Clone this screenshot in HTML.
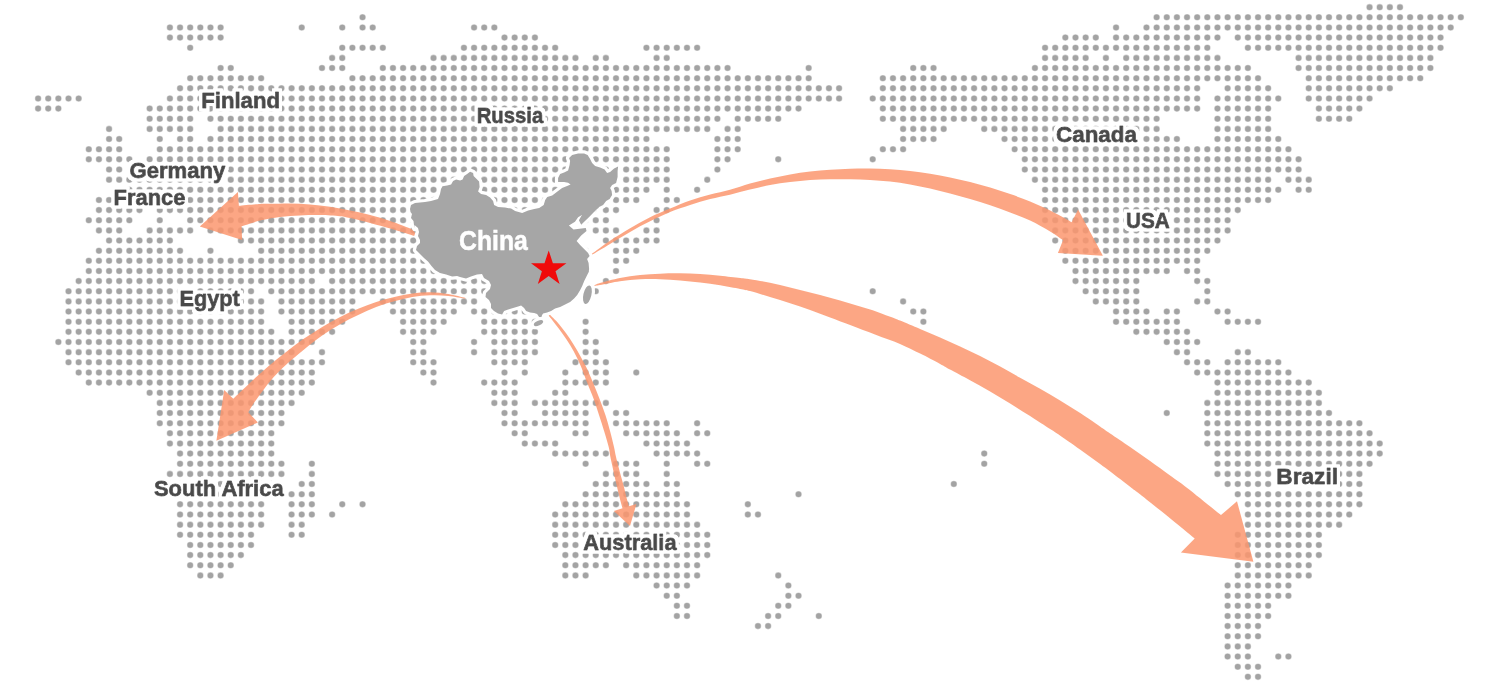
<!DOCTYPE html>
<html><head><meta charset="utf-8"><title>Map</title>
<style>
html,body{margin:0;padding:0;background:#fff;}
body{width:1498px;height:684px;overflow:hidden;}
svg{display:block}
text{font-family:"Liberation Sans",sans-serif;font-weight:bold;}
</style></head><body>
<svg width="1498" height="684" viewBox="0 0 1498 684">
<defs><filter id="nf" x="-5%" y="-50%" width="110%" height="200%"><feOffset dx="0" dy="0"/></filter>
<filter id="halo" filterUnits="userSpaceOnUse" x="0" y="0" width="1498" height="684"><feMorphology in="SourceAlpha" operator="dilate" radius="2.6" result="d"/><feGaussianBlur in="d" stdDeviation="0.5" result="b"/><feFlood flood-color="#fff"/><feComposite in2="b" operator="in" result="h"/><feMerge><feMergeNode in="h"/><feMergeNode in="h"/><feMergeNode in="SourceGraphic"/></feMerge></filter></defs>
<rect width="1498" height="684" fill="#fff"/>
<defs><g id="dots"><path d="M362.55 17.30h0.01M169.91 27.44h50.70M301.71 27.44h0.01M342.27 27.44h0.01M362.55 27.44h10.15M474.08 27.44h20.29M169.91 37.59h50.70M504.49 37.59h30.43M190.18 47.74h0.01M342.27 47.74h40.57M463.94 47.74h91.26M646.44 47.74h50.70M332.13 57.88h10.15M433.52 57.88h141.96M595.75 57.88h10.15M656.58 57.88h10.15M220.60 68.03h10.15M321.99 68.03h20.29M382.83 68.03h344.74M808.66 68.03h0.01M190.18 78.18h70.98M352.41 78.18h456.26M180.05 88.33h659.04M38.10 98.47h40.57M169.91 98.47h669.18M38.10 108.62h20.29M149.63 108.62h648.91M149.63 118.77h40.57M210.46 118.77h506.96M737.69 118.77h40.57M109.07 128.91h0.01M149.63 128.91h40.57M220.60 128.91h486.68M727.55 128.91h10.15M109.07 139.06h10.15M159.77 139.06h0.01M180.05 139.06h10.15M210.46 139.06h435.99M717.41 139.06h20.29M88.79 149.21h30.43M159.77 149.21h506.96M717.41 149.21h20.29M88.79 159.36h40.57M149.63 159.36h517.10M717.41 159.36h10.15M778.25 159.36h0.01M109.07 169.50h10.15M139.49 169.50h527.24M717.41 169.50h0.01M109.07 179.65h557.65M707.27 179.65h0.01M129.35 189.80h517.10M666.72 189.80h0.01M697.13 189.80h0.01M98.93 199.94h537.38M666.72 199.94h10.15M98.93 210.09h40.57M159.77 210.09h456.26M656.58 210.09h10.15M88.79 220.24h40.57M159.77 220.24h0.01M190.18 220.24h415.71M656.58 220.24h0.01M98.93 230.38h20.29M149.63 230.38h40.57M210.46 230.38h405.57M646.44 230.38h10.15M109.07 240.53h60.84M240.88 240.53h334.60M605.88 240.53h50.70M98.93 250.68h81.12M210.46 250.68h0.01M261.16 250.68h324.46M616.02 250.68h20.29M88.79 260.82h496.82M616.02 260.82h10.15M88.79 270.97h496.82M616.02 270.97h0.01M78.66 281.12h233.21M332.13 281.12h243.35M605.88 281.12h0.01M68.52 291.27h182.51M271.30 291.27h304.18M595.75 291.27h0.01M68.52 301.41h192.65M281.44 301.41h70.98M382.83 301.41h91.26M494.36 301.41h70.98M68.52 311.56h192.65M281.44 311.56h70.98M392.96 311.56h60.84M474.08 311.56h50.70M68.52 321.71h192.65M291.57 321.71h50.70M403.10 321.71h40.57M484.22 321.71h50.70M585.61 321.71h0.01M68.52 331.85h202.79M291.57 331.85h40.57M403.10 331.85h30.43M484.22 331.85h50.70M585.61 331.85h0.01M58.38 342.00h253.48M413.24 342.00h10.15M474.08 342.00h0.01M494.36 342.00h40.57M585.61 342.00h10.15M68.52 352.15h223.07M321.99 352.15h0.01M413.24 352.15h10.15M474.08 352.15h0.01M494.36 352.15h40.57M585.61 352.15h10.15M68.52 362.29h253.48M413.24 362.29h20.29M494.36 362.29h30.43M575.47 362.29h30.43M78.66 372.44h233.21M423.38 372.44h10.15M504.49 372.44h0.01M524.77 372.44h0.01M565.33 372.44h0.01M585.61 372.44h20.29M636.30 372.44h0.01M88.79 382.59h223.07M433.52 382.59h0.01M484.22 382.59h30.43M565.33 382.59h40.57M149.63 392.74h152.09M494.36 392.74h20.29M555.19 392.74h10.15M159.77 402.88h131.82M494.36 402.88h20.29M534.91 402.88h70.98M159.77 413.03h121.68M504.49 413.03h10.15M545.05 413.03h40.57M616.02 413.03h10.15M159.77 423.18h121.68M504.49 423.18h81.12M616.02 423.18h50.70M697.13 423.18h0.01M169.91 433.32h101.40M514.63 433.32h10.15M575.47 433.32h10.15M626.16 433.32h50.70M697.13 433.32h10.15M169.91 443.47h101.40M524.77 443.47h30.43M646.44 443.47h40.57M180.05 453.62h91.26M555.19 453.62h50.70M656.58 453.62h40.57M180.05 463.76h101.40M311.85 463.76h0.01M585.61 463.76h0.01M616.02 463.76h20.29M666.72 463.76h0.01M697.13 463.76h10.15M169.91 473.91h111.54M311.85 473.91h0.01M605.88 473.91h30.43M666.72 473.91h0.01M169.91 484.06h101.40M301.71 484.06h10.15M595.75 484.06h50.70M666.72 484.06h10.15M180.05 494.21h81.12M291.57 494.21h20.29M585.61 494.21h91.26M798.52 494.21h0.01M180.05 504.35h81.12M291.57 504.35h20.29M342.27 504.35h0.01M362.55 504.35h0.01M565.33 504.35h121.68M747.83 504.35h0.01M180.05 514.50h81.12M291.57 514.50h20.29M332.13 514.50h0.01M555.19 514.50h131.82M747.83 514.50h10.15M180.05 524.65h81.12M291.57 524.65h10.15M555.19 524.65h141.96M180.05 534.79h70.98M291.57 534.79h10.15M555.19 534.79h152.09M190.18 544.94h60.84M555.19 544.94h152.09M190.18 555.09h50.70M565.33 555.09h141.96M190.18 565.24h40.57M565.33 565.24h40.57M626.16 565.24h70.98M200.32 575.38h20.29M565.33 575.38h20.29M636.30 575.38h60.84M778.25 575.38h0.01M656.58 585.53h30.43M788.39 585.53h0.01M666.72 595.68h10.15M788.39 595.68h10.15M676.86 605.82h10.15M778.25 605.82h10.15M676.86 615.97h10.15M768.11 615.97h10.15M818.80 615.97h0.01M757.97 626.12h10.15" stroke-dasharray="0 10.139"/><path d="M1369.56 7.15h30.43M1156.62 17.30h304.21M1116.06 27.44h0.01M1146.48 27.44h304.21M1065.36 37.59h30.43M1116.06 37.59h101.41M1237.74 37.59h202.81M1045.08 47.74h162.25M1247.88 47.74h192.67M1045.08 57.88h40.57M1105.92 57.88h0.01M1126.20 57.88h91.27M1298.58 57.88h131.83M913.26 68.03h20.29M1034.94 68.03h212.95M1298.58 68.03h131.83M882.84 78.18h375.19M1308.72 78.18h111.55M882.84 88.33h314.35M1227.60 88.33h40.57M1308.72 88.33h81.13M872.70 98.47h324.49M1217.46 98.47h60.85M1308.72 98.47h60.85M882.84 108.62h314.35M1217.46 108.62h50.71M1318.86 108.62h40.57M882.84 118.77h273.79M1217.46 118.77h50.71M1318.86 118.77h30.43M903.12 128.91h40.57M984.24 128.91h172.39M1217.46 128.91h50.71M903.12 139.06h30.43M1004.52 139.06h172.39M1217.46 139.06h60.85M882.84 149.21h20.29M1014.66 149.21h273.79M872.70 159.36h0.01M1024.80 159.36h273.79M1024.80 169.50h273.79M1034.94 179.65h233.23M1288.44 179.65h20.29M1045.08 189.80h233.23M1298.58 189.80h10.15M1045.08 199.94h223.09M1045.08 210.09h192.67M1045.08 220.24h182.53M1055.22 230.38h172.39M1055.22 240.53h162.25M1065.36 250.68h141.97M1065.36 260.82h131.83M1075.50 270.97h91.27M1187.04 270.97h10.15M1075.50 281.12h60.85M1197.18 281.12h10.15M872.70 291.27h0.01M1085.64 291.27h50.71M1207.32 291.27h0.01M903.12 301.41h0.01M1095.78 301.41h40.57M1197.18 301.41h10.15M913.26 311.56h10.15M1116.06 311.56h30.43M1166.76 311.56h10.15M1217.46 311.56h10.15M923.40 321.71h0.01M1116.06 321.71h60.85M1227.60 321.71h30.43M1136.34 331.85h50.71M1166.76 342.00h30.43M1176.90 352.15h10.15M1237.74 352.15h10.15M1187.04 362.29h20.29M1227.60 362.29h50.71M1197.18 372.44h91.27M1217.46 382.59h91.27M1217.46 392.74h101.41M1207.32 402.88h111.55M1166.76 413.03h0.01M1207.32 413.03h121.69M1207.32 423.18h152.11M1207.32 433.32h162.25M1207.32 443.47h172.39M984.24 453.62h0.01M1217.46 453.62h162.25M984.24 463.76h0.01M1217.46 463.76h152.11M1217.46 473.91h141.97M953.82 484.06h0.01M1227.60 484.06h131.83M1237.74 494.21h121.69M1247.88 504.35h111.55M1247.88 514.50h101.41M1247.88 524.65h91.27M1237.74 534.79h81.13M1237.74 544.94h81.13M1237.74 555.09h81.13M1237.74 565.24h70.99M1237.74 575.38h70.99M1227.60 585.53h60.85M1227.60 595.68h60.85M1227.60 605.82h40.57M1227.60 615.97h40.57M1227.60 626.12h30.43M1227.60 636.26h30.43M1227.60 646.41h20.29M1227.60 656.56h20.29M1278.30 656.56h10.15M1237.74 666.71h20.29M1247.88 676.85h10.15" stroke-dasharray="0 10.14"/></g></defs><g fill="none" stroke="#a3a3a3" stroke-linecap="round"><use href="#dots" stroke-width="6.6" stroke-opacity="0.5"/><use href="#dots" stroke-width="5.5"/></g>
<g fill="#fb976e" fill-opacity="0.85">
<path d="M415.2 233.1C414.4 232.3 414.4 230.6 410.2 228.6C406.0 226.6 396.9 223.3 390.2 221.0C383.5 218.7 376.8 216.8 370.1 215.0C363.4 213.2 356.8 211.9 350.1 210.5C343.4 209.1 336.8 207.8 330.1 206.8C323.4 205.8 316.8 205.0 310.1 204.4C303.4 203.8 296.7 203.5 290.0 203.4C283.3 203.3 275.0 203.7 270.0 203.8C265.0 203.9 265.3 203.7 260.1 204.0C254.9 204.3 242.4 205.5 238.9 205.8L237.9 192.0L199.8 226.6L242.1 239.9L241.6 226.3C244.7 225.3 253.7 222.1 260.1 220.5C266.5 218.9 273.4 217.8 280.1 217.0C286.8 216.2 293.4 215.7 300.1 215.4C306.8 215.1 313.6 214.9 320.2 215.0C326.8 215.1 335.0 215.7 340.0 216.2C345.0 216.7 345.1 216.9 350.1 218.0C355.1 219.1 363.4 221.2 370.1 223.0C376.8 224.8 384.4 226.9 390.2 228.6C396.0 230.3 401.2 231.8 405.2 233.1C409.2 234.3 412.7 235.6 414.2 236.1Z"/>
<path d="M465.5 298.0C462.6 297.4 454.2 295.1 448.3 294.1C442.4 293.2 436.3 292.4 430.3 292.3C424.3 292.2 418.3 292.7 412.3 293.5C406.3 294.3 400.3 295.7 394.3 297.1C388.3 298.5 382.2 300.1 376.2 302.0C370.2 303.9 364.2 306.3 358.2 308.8C352.2 311.3 346.2 313.9 340.2 316.9C334.2 319.9 328.2 323.3 322.2 326.9C316.2 330.5 310.1 334.4 304.1 338.6C298.1 342.8 292.1 347.5 286.1 352.1C280.1 356.8 274.1 361.4 268.1 366.5C262.1 371.6 255.9 377.3 250.1 382.7C244.3 388.1 236.1 396.0 233.3 398.7L224.2 390.0L216.4 440.7L257.9 422.5L248.3 412.3C249.2 410.8 251.3 406.9 253.7 403.3C256.1 399.7 259.4 395.2 262.7 390.9C266.0 386.6 269.6 381.7 273.5 377.3C277.4 372.9 281.0 369.4 286.1 364.7C291.2 360.0 298.1 354.3 304.1 349.4C310.1 344.5 316.2 339.7 322.2 335.5C328.2 331.3 334.2 327.6 340.2 324.2C346.2 320.8 352.2 318.0 358.2 315.1C364.2 312.2 370.2 309.3 376.2 307.0C382.2 304.7 388.3 302.9 394.3 301.3C400.3 299.7 406.3 298.1 412.3 297.1C418.3 296.1 424.3 295.5 430.3 295.3C436.3 295.1 442.4 295.3 448.3 295.9C454.2 296.4 462.6 298.2 465.5 298.6Z"/>
<path d="M548.6 315.5C549.7 316.9 552.9 320.8 555.2 323.9C557.6 327.0 560.2 330.4 562.7 334.0C565.2 337.6 567.9 341.4 570.2 345.2C572.5 349.0 574.7 353.1 576.6 357.0C578.5 360.9 580.1 364.3 581.9 368.7C583.7 373.1 585.3 378.1 587.3 383.1C589.3 388.2 591.8 393.7 593.7 399.0C595.7 404.3 597.2 409.5 599.0 415.0C600.8 420.5 602.8 426.8 604.4 432.1C606.0 437.5 607.7 443.1 608.7 447.1C609.7 451.1 609.5 452.2 610.2 456.0C611.0 459.8 612.2 465.3 613.2 469.9C614.2 474.5 615.2 479.0 616.3 483.8C617.4 488.6 618.9 494.6 619.9 498.7C620.9 502.8 622.1 506.7 622.5 508.3L613.8 511.0L630.0 526.0L636.4 504.1L628.9 506.2C628.5 504.9 627.8 502.4 626.8 498.7C625.8 495.0 624.4 488.6 623.1 483.8C621.9 479.0 620.5 474.5 619.3 469.9C618.1 465.3 616.7 459.8 615.8 456.0C614.9 452.2 614.9 451.1 614.0 447.1C613.1 443.1 611.7 437.5 610.3 432.1C608.9 426.8 607.2 420.5 605.4 415.0C603.6 409.5 601.6 404.3 599.6 399.0C597.6 393.7 595.3 388.2 593.2 383.1C591.1 378.0 588.9 372.7 586.8 368.2C584.6 363.7 582.5 359.9 580.3 355.9C578.1 351.9 575.8 348.0 573.4 344.2C571.0 340.4 568.6 336.6 565.9 333.0C563.2 329.4 560.1 325.3 557.4 322.3C554.7 319.3 551.1 316.1 549.9 314.8Z"/>
<path d="M591.5 254.1C594.6 251.9 603.6 245.1 610.0 240.8C616.4 236.5 623.4 232.1 630.1 228.2C636.8 224.3 643.4 220.5 650.1 217.2C656.8 213.9 663.4 211.3 670.1 208.5C676.8 205.7 683.4 202.8 690.1 200.5C696.8 198.2 703.6 196.3 710.2 194.5C716.9 192.7 723.4 191.5 730.0 189.7C736.6 187.9 743.3 185.4 750.0 183.5C756.7 181.6 763.4 180.0 770.1 178.5C776.8 177.0 783.4 175.7 790.1 174.5C796.8 173.3 803.4 172.3 810.1 171.5C816.8 170.7 823.4 170.2 830.1 169.7C836.8 169.2 843.6 168.9 850.2 168.7C856.9 168.5 863.4 168.4 870.0 168.5C876.6 168.6 883.3 168.9 890.0 169.3C896.7 169.7 903.4 170.2 910.1 171.0C916.8 171.8 923.4 172.7 930.1 173.8C936.8 174.9 943.4 176.1 950.1 177.5C956.8 178.9 963.4 180.3 970.1 182.0C976.8 183.7 983.5 185.5 990.2 187.5C996.9 189.5 1003.6 191.8 1010.2 194.1C1016.9 196.4 1023.4 198.8 1030.1 201.5C1036.8 204.2 1044.3 207.7 1050.1 210.5C1055.9 213.3 1061.5 216.6 1065.1 218.5C1068.7 220.4 1070.5 221.6 1071.6 222.2L1078.1 209.5L1102.9 255.8L1057.9 253.1L1063.1 240.1C1060.9 238.7 1055.6 234.8 1050.1 231.5C1044.6 228.2 1036.8 223.7 1030.1 220.5C1023.4 217.3 1016.8 215.1 1010.1 212.6C1003.5 210.1 996.9 207.6 990.2 205.3C983.5 203.1 976.8 201.1 970.1 199.1C963.4 197.1 956.8 195.4 950.1 193.6C943.4 191.8 936.8 190.0 930.1 188.5C923.4 187.0 916.8 185.7 910.1 184.5C903.4 183.3 896.7 182.2 890.0 181.5C883.3 180.8 876.6 180.4 870.0 180.0C863.4 179.6 856.9 179.3 850.2 179.2C843.6 179.1 836.8 179.1 830.1 179.2C823.4 179.3 816.8 179.5 810.1 180.0C803.4 180.5 796.8 181.2 790.1 182.0C783.4 182.8 776.8 183.7 770.1 185.0C763.4 186.3 756.7 188.0 750.0 189.6C743.3 191.2 736.6 193.1 730.0 194.7C723.4 196.3 716.9 197.3 710.2 199.0C703.6 200.7 696.8 202.8 690.1 205.0C683.4 207.2 676.8 209.3 670.1 212.0C663.4 214.7 656.8 218.0 650.1 221.3C643.4 224.6 636.8 228.1 630.1 231.9C623.4 235.7 616.4 240.0 610.0 243.9C603.6 247.8 594.6 253.2 591.5 255.1Z"/>
<path d="M594.4 285.5C595.3 285.1 595.7 284.2 600.0 283.0C604.3 281.8 613.3 279.3 620.0 278.0C626.7 276.7 633.4 275.7 640.1 275.0C646.8 274.3 653.4 274.0 660.1 273.7C666.8 273.4 673.4 273.2 680.1 273.3C686.8 273.4 693.4 273.6 700.1 274.0C706.8 274.4 713.5 275.0 720.2 275.7C726.9 276.4 735.2 277.4 740.2 278.0C745.2 278.6 745.0 278.4 750.0 279.2C755.0 280.0 763.3 281.4 770.0 282.8C776.7 284.2 783.4 285.9 790.1 287.5C796.8 289.1 803.4 290.8 810.1 292.5C816.8 294.2 823.4 296.0 830.1 297.8C836.8 299.6 843.4 301.5 850.1 303.5C856.8 305.5 863.5 307.4 870.2 309.6C876.9 311.8 885.2 315.0 890.2 316.8C895.2 318.6 895.0 318.6 900.0 320.6C905.0 322.6 913.4 326.2 920.1 329.0C926.8 331.8 933.4 334.6 940.1 337.5C946.8 340.4 953.4 343.4 960.1 346.5C966.8 349.6 973.4 352.8 980.1 356.1C986.8 359.5 993.5 363.0 1000.2 366.6C1006.9 370.2 1013.5 374.0 1020.1 377.7C1026.8 381.4 1033.4 385.0 1040.1 388.8C1046.8 392.6 1053.4 396.4 1060.1 400.5C1066.8 404.6 1073.5 408.8 1080.2 413.1C1086.9 417.4 1095.0 423.1 1100.0 426.5C1105.0 429.9 1105.1 430.1 1110.1 433.5C1115.1 436.9 1123.4 442.4 1130.1 447.0C1136.8 451.6 1143.4 456.3 1150.1 461.1C1156.8 465.9 1163.9 471.1 1170.1 475.6C1176.3 480.1 1178.7 481.4 1187.2 488.0C1195.7 494.6 1215.4 510.6 1221.0 515.1L1237.0 501.3L1253.4 561.8L1180.9 552.5L1194.7 538.6C1190.0 534.8 1175.8 523.0 1166.7 515.6C1157.6 508.2 1145.8 498.9 1140.0 494.3C1134.2 489.7 1134.9 490.5 1131.6 488.0C1128.3 485.5 1125.3 483.1 1120.1 479.1C1114.8 475.1 1106.8 469.0 1100.1 464.1C1093.4 459.2 1086.7 454.3 1080.0 449.5C1073.3 444.7 1065.0 438.9 1060.0 435.5C1055.0 432.1 1055.1 432.3 1050.1 429.1C1045.1 425.9 1036.8 420.4 1030.1 416.1C1023.4 411.8 1016.8 407.6 1010.1 403.5C1003.4 399.4 996.8 395.4 990.1 391.5C983.4 387.6 976.7 383.9 970.0 380.2C963.3 376.5 955.0 372.2 950.0 369.5C945.0 366.8 945.1 366.5 940.1 363.9C935.1 361.2 926.8 356.9 920.1 353.6C913.4 350.3 907.5 347.2 900.0 344.0C892.5 340.8 883.3 337.7 875.0 334.5C866.7 331.3 857.6 327.9 850.1 325.0C842.6 322.1 836.8 319.9 830.1 317.4C823.4 314.9 816.8 312.4 810.1 310.0C803.4 307.6 796.8 305.4 790.1 303.2C783.4 301.0 776.7 299.0 770.0 297.0C763.3 295.0 755.0 292.4 750.0 291.1C745.0 289.8 745.2 290.0 740.2 289.0C735.2 288.0 726.9 286.4 720.2 285.3C713.5 284.2 706.8 283.3 700.1 282.5C693.4 281.7 686.8 281.1 680.1 280.5C673.4 279.9 666.8 279.4 660.1 279.2C653.4 279.0 646.8 279.0 640.1 279.3C633.4 279.6 626.7 280.2 620.0 281.2C613.3 282.1 604.3 284.2 600.0 285.0C595.7 285.8 595.3 285.8 594.4 286.0Z"/>
</g>
<g fill="#a6a6a6" stroke="#fff" stroke-width="6.4" stroke-linejoin="round" paint-order="stroke">
<path d="M410.0 209.1L411.0 205.1L415.0 203.1L420.0 202.6L425.0 202.1L431.0 201.1L438.0 199.1L440.0 194.0L441.0 189.0L442.5 186.2L447.1 185.5L451.1 184.5L453.1 181.0L456.1 179.5L460.1 180.5L462.6 179.5L464.1 176.0L467.1 174.0L470.1 171.8L473.1 173.0L473.6 176.0L476.1 178.5L479.1 181.5L479.6 187.0L478.1 191.5L481.1 194.0L486.1 195.0L490.1 197.5L493.1 201.1L494.1 205.1L498.1 206.9L505.1 207.6L511.1 208.6L515.1 211.1L522.2 213.1L528.2 210.6L534.2 209.1L539.2 208.1L543.7 205.1L545.2 200.1L547.2 197.0L552.2 195.5L558.1 191.1L562.1 188.1L567.1 186.1L570.6 184.6L568.1 182.8L564.1 182.0L558.1 182.0L558.1 178.0L560.1 174.0L564.1 172.5L568.1 170.5L569.6 165.0L570.1 161.0L569.1 158.0L572.1 155.0L578.1 153.5L584.1 153.5L587.6 155.0L590.1 159.0L592.1 163.0L595.1 166.0L600.1 167.5L604.6 169.5L607.1 173.0L610.1 172.0L614.1 168.5L618.1 166.5L617.6 171.0L617.6 177.0L616.1 183.0L612.1 185.1L610.1 188.1L611.6 191.1L612.1 195.1L609.6 199.1L606.1 201.1L603.1 205.1L599.1 207.1L596.1 211.1L595.1 213.0L598.1 208.0L593.5 212.6L588.9 217.2L584.2 221.8L581.2 224.8L578.9 220.2L581.9 214.9L578.1 217.2L575.0 221.8L568.9 225.6L573.5 229.4L579.6 228.7L585.8 227.9L586.5 231.0L581.2 235.6L576.6 241.0L580.1 245.1L584.1 249.1L588.1 253.1L589.6 256.1L587.1 259.1L588.6 263.1L589.1 269.1L588.6 273.0L589.2 270.0L588.7 272.0L586.7 276.0L584.2 281.0L582.2 286.0L580.2 290.0L577.2 295.0L574.1 298.5L570.1 302.0L565.1 304.5L560.1 307.0L555.1 308.6L551.1 311.1L547.1 312.6L543.1 313.6L542.1 315.1L541.1 318.1L539.1 317.1L537.1 314.1L534.1 313.1L530.1 312.6L526.1 311.1L524.1 308.0L521.1 305.5L518.1 306.5L513.1 308.0L508.1 309.6L504.1 311.1L502.1 314.6L498.0 313.6L494.0 311.1L491.0 308.0L491.0 304.0L489.0 300.0L485.5 297.0L486.0 293.0L490.0 289.0L491.0 285.0L489.0 281.0L484.0 278.0L482.0 274.0L477.0 274.5L471.0 276.5L466.0 278.5L460.0 277.0L457.1 276.1L452.1 276.6L446.1 274.6L440.0 273.1L435.0 270.1L431.5 266.1L428.0 261.5L424.0 258.0L420.0 254.0L416.0 250.0L417.0 246.0L420.0 243.0L420.0 240.0L418.0 236.0L419.0 232.0L418.0 228.0L414.5 225.0L415.0 228.0L414.0 225.1L413.5 221.1L411.0 218.1L412.0 214.1L410.5 212.1Z"/>
<ellipse cx="587.4" cy="294.7" rx="4" ry="9.5" transform="rotate(13 587.4 294.7)"/>
<ellipse cx="538.5" cy="323.2" rx="5" ry="2.3" transform="rotate(-25 538.5 323.2)"/>
</g>
<polygon points="548.7,250.4 552.9,263.3 566.4,263.3 555.5,271.2 559.6,284.0 548.7,276.1 537.8,284.0 541.9,271.2 531.0,263.3 544.5,263.3" fill="#f00a0a"/>
<g font-size="21.6" fill="#4a4a4a" stroke="#4a4a4a" stroke-width="0.8" stroke-linejoin="round" filter="url(#halo)">
<text x="201.23" y="108.4" textLength="78.8" lengthAdjust="spacingAndGlyphs">Finland</text>
<text x="476.67" y="123.0" textLength="66.5" lengthAdjust="spacingAndGlyphs">Russia</text>
<text x="129.48" y="177.5" textLength="95.94" lengthAdjust="spacingAndGlyphs">Germany</text>
<text x="113.54" y="205.3" textLength="71.87" lengthAdjust="spacingAndGlyphs">France</text>
<text x="179.48" y="306.1" textLength="60.39" lengthAdjust="spacingAndGlyphs">Egypt</text>
<text x="153.99" y="496.1" textLength="129.6" lengthAdjust="spacingAndGlyphs">South Africa</text>
<text x="583.25" y="550.4" textLength="93.27" lengthAdjust="spacingAndGlyphs">Australia</text>
<text x="1055.99" y="142.35" textLength="80.99" lengthAdjust="spacingAndGlyphs">Canada</text>
<text x="1125.98" y="227.8" textLength="43.8" lengthAdjust="spacingAndGlyphs">USA</text>
<text x="1276.33" y="483.6" textLength="61.65" lengthAdjust="spacingAndGlyphs">Brazil</text>
</g>
<text x="459.0" y="249.7" font-size="27.5" fill="#fff" stroke="#fff" stroke-width="0.5" textLength="68.8" lengthAdjust="spacingAndGlyphs" filter="url(#nf)">China</text>
</svg>
</body></html>
